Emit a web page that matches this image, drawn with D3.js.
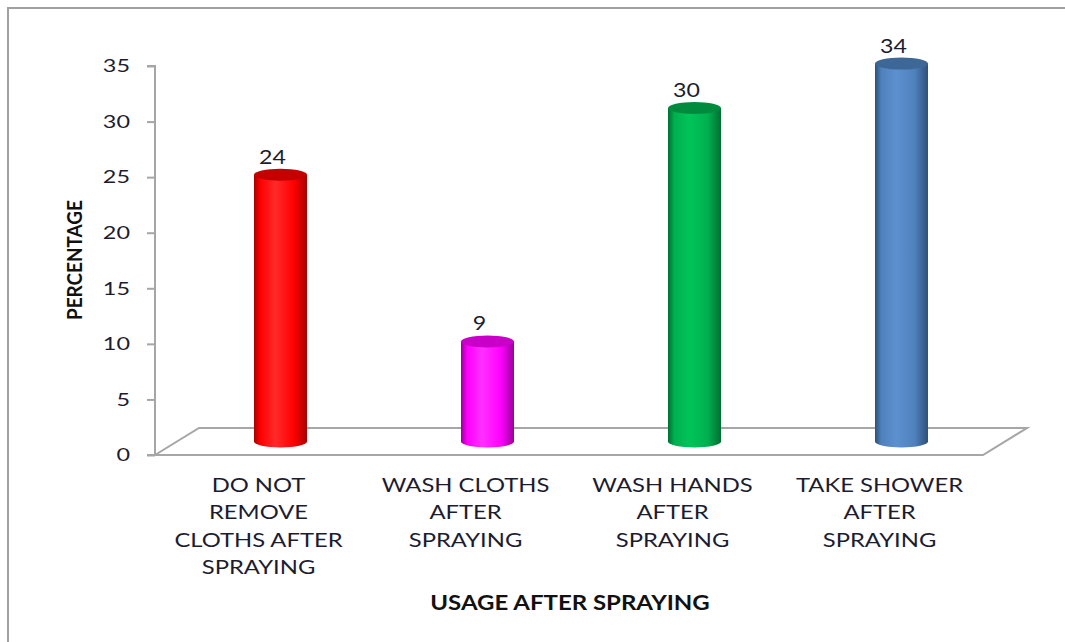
<!DOCTYPE html>
<html>
<head>
<meta charset="utf-8">
<script src="https://cdn.jsdelivr.net/npm/d3@7"></script>
<style>
  body { margin: 0; background: #fff; }
  svg { display: block; font-family: Lato, "Open Sans", sans-serif; }
</style>
</head>
<body>
<svg width="1065" height="642"></svg>
<script>
var categories = [
  ["DO NOT", "REMOVE", "CLOTHS AFTER", "SPRAYING"],
  ["WASH CLOTHS", "AFTER", "SPRAYING"],
  ["WASH HANDS", "AFTER", "SPRAYING"],
  ["TAKE SHOWER", "AFTER", "SPRAYING"]
];
var values = [24, 9, 30, 34];
var yTicks = [0, 5, 10, 15, 20, 25, 30, 35];
var barColors = [
  { base: "#ff0000", light: "#ff2a2a", dark: "#a80000", top: "#c40000" },
  { base: "#ff00ff", light: "#ff30ff", dark: "#9a009a", top: "#c800c8" },
  { base: "#00b050", light: "#00c458", dark: "#006e32", top: "#008a3e" },
  { base: "#4f81bd", light: "#5d90cf", dark: "#2e5078", top: "#3c6797" }
];

var svg = d3.select("svg");
var ids = d3.range(categories.length);
var textColor = "#1c1c30";

// chart frame
svg.append("rect")
  .attr("x", 8).attr("y", 8)
  .attr("width", 1100).attr("height", 700)
  .attr("fill", "none")
  .attr("stroke", "#a0a0a0")
  .attr("stroke-width", 2);

var left = 155, right = 983, depthX = 44, depthY = -27;

var y = d3.scaleLinear().domain([0, 35]).range([455, 66]);
var x = d3.scaleBand().domain(ids).range([left, right]);

var defs = svg.append("defs");
barColors.forEach(function(c, i) {
  var g = defs.append("linearGradient").attr("id", "grad" + i)
    .attr("x1", "0").attr("x2", "1").attr("y1", "0").attr("y2", "0");
  g.append("stop").attr("offset", "0").attr("stop-color", c.dark);
  g.append("stop").attr("offset", "0.12").attr("stop-color", c.base);
  g.append("stop").attr("offset", "0.4").attr("stop-color", c.light);
  g.append("stop").attr("offset", "0.75").attr("stop-color", c.base);
  g.append("stop").attr("offset", "1").attr("stop-color", c.dark);
});

// floor
svg.append("path")
  .attr("fill", "none")
  .attr("stroke", "#a6a6a6")
  .attr("stroke-width", 2)
  .attr("d", "M" + left + "," + y(0) +
    "L" + (left + depthX) + "," + (y(0) + depthY) +
    "L" + (right + depthX) + "," + (y(0) + depthY) +
    "L" + right + "," + y(0) + "Z");

// y axis
var yAxis = svg.append("g")
  .attr("transform", "translate(" + left + ",0)")
  .call(d3.axisLeft(y).tickValues(yTicks).tickSize(8));
yAxis.select(".domain").attr("stroke", "#a6a6a6").attr("stroke-width", 2)
  .attr("d", "M-8," + y(35) + "H0V" + y(0) + "H-8");
yAxis.selectAll(".tick line").attr("stroke", "#a6a6a6").attr("stroke-width", 2);
yAxis.selectAll(".tick text")
  .attr("x", 0)
  .attr("transform", "translate(-25,0) scale(1.3,1)")
  .attr("font-size", 18)
  .attr("font-family", "Lato, sans-serif")
  .attr("fill", textColor);

// cylinders
var barW = 53, ry = 6;
var bars = svg.append("g").selectAll("g").data(ids).enter().append("g");
bars.each(function(i) {
  var g = d3.select(this);
  var cx = x(i) + x.bandwidth() / 2 + depthX / 2;
  var yb = y(0) + depthY / 2;
  var yt = y(values[i]) + depthY / 2;
  var rx = barW / 2;
  g.append("path")
    .attr("d", "M" + (cx - rx) + "," + yt +
      "L" + (cx - rx) + "," + yb +
      "A" + rx + "," + ry + " 0 0 0 " + (cx + rx) + "," + yb +
      "L" + (cx + rx) + "," + yt + "Z")
    .attr("fill", "url(#grad" + i + ")");
  g.append("ellipse")
    .attr("cx", cx).attr("cy", yt)
    .attr("rx", rx).attr("ry", ry)
    .attr("fill", barColors[i].top);
  g.append("text")
    .attr("transform", "translate(" + (cx - 8) + "," + (yt - 11) + ") scale(1.22,1)")
    .attr("text-anchor", "middle")
    .attr("font-size", 19)
    .attr("fill", textColor)
    .text(values[i]);
});

// category labels
var labels = svg.append("g").selectAll("text").data(ids).enter().append("text")
  .attr("text-anchor", "middle")
  .attr("font-size", 20)
  .attr("fill", textColor)
  .attr("transform", function(i) {
    return "translate(" + (x(i) + x.bandwidth() / 2) + ",492) scale(1.19,1)";
  });
labels.selectAll("tspan").data(function(i) { return categories[i]; }).enter().append("tspan")
  .attr("x", 0)
  .attr("y", function(d, k) { return k * 27.5; })
  .text(function(d) { return d; });

// axis titles
svg.append("text")
  .attr("transform", "translate(570,610) scale(1.2,1)")
  .attr("text-anchor", "middle")
  .attr("font-size", 20)
  .attr("font-weight", "bold")
  .attr("fill", "#111")
  .text("USAGE AFTER SPRAYING");

svg.append("text")
  .attr("transform", "translate(82,260) rotate(-90)")
  .attr("text-anchor", "middle")
  .attr("font-size", 21)
  .attr("font-weight", "bold")
  .attr("fill", "#111")
  .attr("textLength", 120)
  .attr("lengthAdjust", "spacingAndGlyphs")
  .text("PERCENTAGE");
</script>
</body>
</html>
